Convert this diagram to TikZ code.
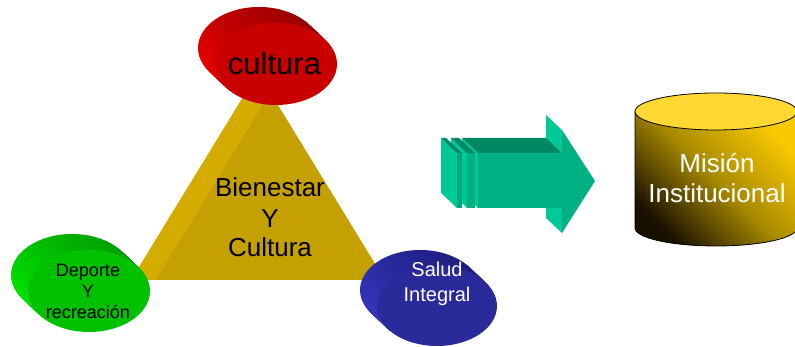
\documentclass[tikz,border=0pt]{standalone}
\usepackage{fontspec}
\setmainfont{Liberation Sans}
\definecolor{triLight}{HTML}{D4AC00}
\definecolor{triFront}{HTML}{C4A000}
\definecolor{redF}{HTML}{C80000}
\definecolor{redL}{HTML}{E60000}
\definecolor{redD}{HTML}{9A0000}
\definecolor{grnF}{HTML}{00C000}
\definecolor{grnL}{HTML}{00E000}
\definecolor{grnD}{HTML}{00A000}
\definecolor{bluF}{HTML}{2A2A9A}
\definecolor{bluL}{HTML}{3434BC}
\definecolor{bluD}{HTML}{1E1E80}
\definecolor{arrL}{HTML}{00C896}
\definecolor{arrM}{HTML}{00B082}
\definecolor{arrM2}{HTML}{00A67C}
\definecolor{arrD}{HTML}{008864}
\definecolor{cylTop}{HTML}{FFD833}
\definecolor{cylHi}{HTML}{F8C800}
\definecolor{cylMid}{HTML}{A88A00}
\definecolor{cylLo}{HTML}{1A1000}
\newcommand\myextell[7]{% front x, front y, rx, ry, front colour, light, dark
  \foreach \k in {17,16,...,1}{
    \shade[bottom color=#6, top color=#7, shading angle=-40]
      ({#1-\k},{#2+\k*16/17}) ellipse[x radius=#3, y radius=#4];
  }
  \fill[#5] (#1,#2) ellipse[x radius=#3, y radius=#4];
}
\tikzset{
  lbl/.style={inner sep=0pt, anchor=base},
  big/.style={font=\fontsize{26}{31}\selectfont},
}
\begin{document}
\begin{tikzpicture}[x=1pt,y=1pt]
\useasboundingbox (0,0) rectangle (795,347);
% triangle
\coordinate (tA) at (270,255);
\coordinate (tL) at (155,67);
\coordinate (tR) at (385,67);
\coordinate (bA) at (246,255);
\coordinate (bL) at (131,67);
\fill[triLight] (tL) -- (bL) -- (bA) -- (tA) -- cycle;
\fill[triFront] (tA) -- (tL) -- (tR) -- cycle;
\node[lbl, big] (bie) at (270,150) {Bienestar};
\node[lbl, big] (bieY) at (270,119) {Y};
\node[lbl, big] (bieC) at (270,90) {Cultura};
% ellipses
\myextell{276}{283}{61}{41}{redF}{redL}{redD}
\myextell{89}{56}{61}{41}{grnF}{grnL}{grnD}
\myextell{437}{41}{60}{40}{bluF}{bluL}{bluD}
\node[lbl, font=\fontsize{31}{36}\selectfont] (cul) at (274.5,272) {cultura};
\node[lbl, font=\fontsize{18}{21}\selectfont] (dep1) at (88,70) {Deporte};
\node[lbl, font=\fontsize{18}{21}\selectfont] (dep2) at (88,49) {Y};
\node[lbl, font=\fontsize{18}{21}\selectfont] (dep3) at (88,28) {recreación};
\node[lbl, font=\fontsize{20}{24}\selectfont, text=white] (sal1) at (437,70) {Salud};
\node[lbl, font=\fontsize{20}{24}\selectfont, text=white] (sal2) at (437,45) {Integral};
% arrow: arrowhead back faces
\fill[arrL] (562,217) -- (546,232) -- (546,209) -- (562,194) -- cycle;
\fill[arrL] (562,139) -- (546,154) -- (546,129) -- (562,114) -- cycle;
% body side and top
\fill[arrL] (478,194) -- (462,209) -- (462,154) -- (478,139) -- cycle;
\fill[arrD] (478,194) -- (562,194) -- (546,209) -- (462,209) -- cycle;
\fill[arrM] (478,194) -- (562,194) -- (562,217) -- (595,166) -- (562,114) -- (562,139) -- (478,139) -- cycle;
% plate 2
\fill[arrL] (467,194) -- (451,209) -- (451,154) -- (467,139) -- cycle;
\fill[arrD] (467,194) -- (475,194) -- (459,209) -- (451,209) -- cycle;
\fill[arrM] (467,139) rectangle (475,194);
% plate 1
\fill[arrL] (457,194) -- (441,209) -- (441,154) -- (457,139) -- cycle;
\fill[arrD] (457,194) -- (462,194) -- (446,209) -- (441,209) -- cycle;
\fill[arrM2] (457,139) rectangle (462,194);
% cylinder
\shade[top color=cylHi, bottom color=cylLo, middle color=cylMid, shading angle=-45]
  (635,235.5) -- (635,119) arc[start angle=180, end angle=360, x radius=81, y radius=18] -- (797,235.5) -- cycle;
\draw[black, line width=0.8pt]
  (635,235.5) -- (635,119) arc[start angle=180, end angle=360, x radius=81, y radius=18] -- (797,235.5);
\filldraw[fill=cylTop, draw=black, line width=0.8pt] (716,235.5) ellipse[x radius=81, y radius=18.5];
\node[lbl, big, text=white] (mis1) at (717,174) {Misión};
\node[lbl, big, text=white] (mis2) at (717,144) {Institucional};
\end{tikzpicture}
\end{document}
